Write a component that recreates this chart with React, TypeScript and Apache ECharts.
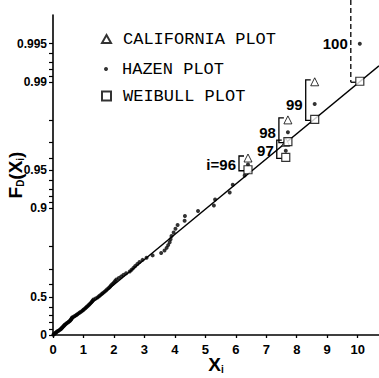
import React, { useEffect, useRef } from "react";
import * as echarts from "echarts";

// Ordered sample values x_(i), i = 1..100
const sampleX = [
  0.01, 0.03, 0.05, 0.08, 0.1, 0.12, 0.15, 0.18, 0.21, 0.24,
  0.26, 0.28, 0.3, 0.32, 0.34, 0.36, 0.38, 0.4, 0.43, 0.46,
  0.49, 0.52, 0.55, 0.57, 0.59, 0.61, 0.62, 0.64, 0.69, 0.73,
  0.77, 0.8, 0.84, 0.88, 0.92, 0.96, 0.99, 1.02, 1.06, 1.09,
  1.12, 1.16, 1.19, 1.22, 1.25, 1.28, 1.3, 1.33, 1.4, 1.46,
  1.51, 1.55, 1.6, 1.64, 1.69, 1.74, 1.78, 1.83, 1.87, 1.91,
  1.95, 2.0, 2.04, 2.08, 2.16, 2.24, 2.31, 2.4, 2.52, 2.58,
  2.64, 2.7, 2.77, 2.84, 2.94, 3.07, 3.27, 3.55, 3.66, 3.73,
  3.78, 3.83, 3.86, 3.89, 3.96, 4.02, 4.09, 4.32, 4.33, 4.76,
  5.28, 5.32, 5.8, 5.9, 6.29, 6.4, 7.64, 7.71, 8.59, 10.07,
];

// Ranks whose three plotting positions are compared
const markedRanks = [96, 97, 98, 99, 100];

// Probability-paper ticks and labels
const probTicks = [
  0, 0.1, 0.2, 0.3, 0.4, 0.5, 0.6, 0.7, 0.8, 0.9, 0.91, 0.92, 0.93, 0.94,
  0.95, 0.96, 0.97, 0.98, 0.99, 0.991, 0.992, 0.993, 0.994, 0.995,
];
const probLabels = ["0", "0.5", "0.9", "0.95", "0.99", "0.995"];
const xTicks = [0, 1, 2, 3, 4, 5, 6, 7, 8, 9, 10];

// Fitted exponential distribution (mean of X)
const fitMean = 2.185;

const X_MAX = 10.7;
const Y_MAX = 5.82;

const n = sampleX.length;
// exponential probability paper: reduced variate -ln(1 - F)
const reduced = (F: number) => -Math.log(1 - F);
const california = (i: number) => i / n;
const hazen = (i: number) => (i - 0.5) / n;
const weibull = (i: number) => i / (n + 1);

const TICK_FONT = "'Liberation Sans', Arial, sans-serif";
const BOLD = "'Liberation Sans', Arial, sans-serif";
const MONO = "'Liberation Mono', 'DejaVu Sans Mono', monospace";

export default function App() {
  const ref = useRef<HTMLDivElement>(null);

  useEffect(() => {
    if (!ref.current) return;
    const chart = echarts.init(ref.current, null, { renderer: "svg" });

    const hazenData = sampleX.map((x, k) => [x, reduced(hazen(k + 1))]);
    const calData = markedRanks
      .filter((i) => california(i) < 1)
      .map((i) => [sampleX[i - 1], reduced(california(i))]);
    const weibData = markedRanks.map((i) => [sampleX[i - 1], reduced(weibull(i))]);
    // [x, weibull y, hazen y, california y (-1 = unbounded), rank]
    const bracketData = markedRanks.map((i) => [
      sampleX[i - 1],
      reduced(weibull(i)),
      reduced(hazen(i)),
      california(i) < 1 ? reduced(california(i)) : -1,
      i,
    ]);

    const labelFor = (v: number) => {
      let best = "";
      let d = Infinity;
      for (const s of probLabels) {
        const dd = Math.abs(reduced(parseFloat(s)) - v);
        if (dd < d) {
          d = dd;
          best = s;
        }
      }
      return d < 1e-6 ? best : "";
    };

    const legendText = {
      fontFamily: MONO,
      fontSize: 17,
      color: "#000",
      lineHeight: 18,
      padding: [0, 0, 0, 7],
    };

    const nameRich = {
      b: { fontFamily: BOLD, fontWeight: "bold", fontSize: 19, color: "#000" },
      s: { fontFamily: BOLD, fontWeight: "bold", fontSize: 10, color: "#000", verticalAlign: "bottom" },
    };

    chart.setOption({
      animation: false,
      backgroundColor: "#fff",
      grid: {
        left: 53,
        right: 0,
        top: 15,
        bottom: 43,
        containLabel: false,
        outerBoundsMode: "none",
      },
      legend: [
        {
          data: ["CALIFORNIA PLOT"],
          left: 101,
          top: 30,
          padding: 0,
          itemWidth: 9,
          itemHeight: 8,
          selectedMode: false,
          textStyle: legendText,
        },
        {
          data: ["HAZEN PLOT"],
          left: 104,
          top: 60,
          padding: 0,
          itemWidth: 4,
          itemHeight: 4,
          selectedMode: false,
          textStyle: { ...legendText, padding: [0, 0, 0, 9] },
        },
        {
          data: ["WEIBULL PLOT"],
          left: 101,
          top: 87,
          padding: 0,
          itemWidth: 9,
          itemHeight: 9,
          selectedMode: false,
          textStyle: legendText,
        },
      ],
      xAxis: {
        type: "value",
        min: 0,
        max: X_MAX,
        name: "{b|X}{s|i}",
        nameLocation: "middle",
        nameGap: 20,
        nameMoveOverlap: false,
        nameTextStyle: { rich: nameRich },
        axisLine: { show: true, onZero: false, lineStyle: { color: "#000", width: 1.6 } },
        axisTick: {
          show: true,
          length: 3,
          customValues: xTicks,
          lineStyle: { color: "#000", width: 1.3 },
        },
        axisLabel: {
          customValues: xTicks,
          margin: 8,
          color: "#000",
          fontFamily: TICK_FONT,
          fontWeight: "bold",
          fontSize: 13,
        },
        splitLine: { show: false },
      },
      yAxis: {
        type: "value",
        min: 0,
        max: Y_MAX,
        name: "{b|F}{s|D}{b|(X}{s|i}{b|)}",
        nameLocation: "middle",
        nameRotate: 90,
        nameGap: 28,
        nameMoveOverlap: false,
        nameTextStyle: { rich: nameRich },
        axisLine: { show: true, onZero: false, lineStyle: { color: "#000", width: 1.6 } },
        axisTick: {
          show: true,
          length: 4,
          customValues: probTicks.map(reduced),
          lineStyle: { color: "#000", width: 1.2 },
        },
        axisLabel: {
          customValues: probLabels.map((s) => reduced(parseFloat(s))),
          formatter: (v: number) => labelFor(v),
          margin: 6,
          color: "#000",
          fontFamily: TICK_FONT,
          fontWeight: "bold",
          fontSize: 12,
        },
        splitLine: { show: false },
      },
      series: [
        {
          name: "fit",
          type: "line",
          data: [
            [0, 0],
            [X_MAX, X_MAX / fitMean],
          ],
          showSymbol: false,
          symbol: "none",
          silent: true,
          lineStyle: { color: "#000", width: 1.4 },
          z: 1,
        },
        {
          name: "brackets",
          type: "custom",
          clip: false,
          silent: true,
          z: 3,
          encode: { x: 0, y: 1 },
          data: bracketData,
          renderItem: (params: any, api: any) => {
            const x = api.value(0);
            const pBot = api.coord([x, api.value(1)]);
            const pMid = api.coord([x, api.value(2)]);
            const calY = api.value(3);
            const rank = api.value(4);
            const bx = pBot[0] - 9;
            const botY = pBot[1] + 1;
            const open = calY < 0;
            const topY = open ? params.coordSys.y - 15 : api.coord([x, calY])[1] - 2;
            const stroke = { stroke: "#000", lineWidth: 1.3, fill: null };
            const children: any[] = [];
            if (open) {
              children.push({
                type: "line",
                shape: { x1: bx, y1: topY, x2: bx, y2: botY },
                style: { ...stroke, lineDash: [5, 3] },
              });
              children.push({
                type: "line",
                shape: { x1: bx, y1: botY, x2: bx + 5, y2: botY },
                style: stroke,
              });
            } else {
              children.push({
                type: "polyline",
                shape: {
                  points: [
                    [bx + 5, topY],
                    [bx, topY],
                    [bx, botY],
                    [bx + 5, botY],
                  ],
                },
                style: stroke,
              });
            }
            children.push({
              type: "text",
              x: bx - 3,
              y: pMid[1],
              style: {
                text: rank === markedRanks[0] ? `i=${rank}` : String(rank),
                align: "right",
                verticalAlign: "middle",
                fontFamily: BOLD,
                fontWeight: "bold",
                fontSize: 15,
                fill: "#000",
              },
            });
            return { type: "group", children };
          },
        },
        {
          name: "HAZEN PLOT",
          type: "scatter",
          data: hazenData,
          symbol: "circle",
          symbolSize: 4,
          itemStyle: { color: "#000" },
          z: 4,
        },
        {
          name: "CALIFORNIA PLOT",
          type: "scatter",
          data: calData,
          symbol: "triangle",
          symbolSize: [8, 8],
          itemStyle: { color: "#fff", borderColor: "#000", borderWidth: 1 },
          z: 5,
        },
        {
          name: "WEIBULL PLOT",
          type: "scatter",
          data: weibData,
          symbol: "rect",
          symbolSize: 8,
          itemStyle: { color: "#fff", borderColor: "#000", borderWidth: 1.2 },
          z: 5,
        },
      ],
    });

    return () => chart.dispose();
  }, []);

  return (
    <div
      ref={ref}
      style={{ position: "fixed", left: 0, top: 0, width: 379, height: 378, background: "#fff" }}
    />
  );
}
